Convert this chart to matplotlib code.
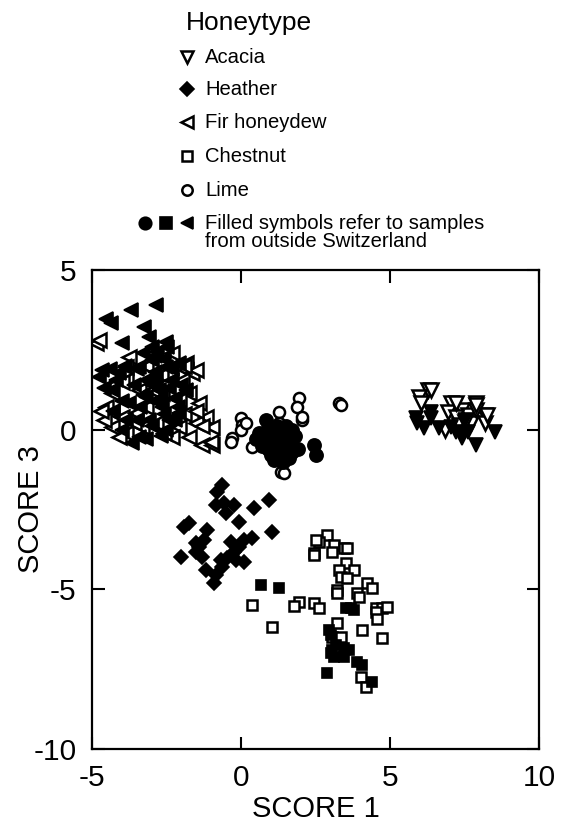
import matplotlib
matplotlib.use("Agg")
import matplotlib.pyplot as plt
from matplotlib.ticker import FixedLocator

plt.rcParams['font.family'] = ['Liberation Sans', 'DejaVu Sans']
plt.rcParams['axes.unicode_minus'] = False

# ---------------- data (SCORE 1, SCORE 3) ----------------
fir_open_x = [-4.85, -4.75, -3.75, -3.85, -1.84, -1.64, -1.98, -4.42, -4.32, -1.74, -1.41, -4.52,
              -4.32, -3.98, -3.52, -1.17, -1.51, -0.97, -2.08, -1.31, -0.97, -3.18, -2.64, -3.41,
              -3.85, -2.98, -2.51, -2.08, -2.85, -3.31, -3.85, -2.31, -1.74, -1.84, -1.51, -4.32,
              -4.08, -4.60, -4.70, -3.60, -2.60, -1.90, -1.50, -2.30, -1.90, -4.00, -3.20, -2.70,
              -1.30, -1.00]
fir_open_y = [2.72, 2.82, 2.29, 1.97, 1.88, 1.78, 1.57, 1.35, 1.16, 1.16, 0.85, 0.72,
              0.56, 0.41, 0.53, 0.41, 0.22, 0.09, 0.09, -0.47, -0.47, 0.72, 1.16, 1.25,
              1.57, 1.25, 1.47, 0.94, 0.22, 0.09, -0.09, -0.22, -0.22, 2.10, 1.88, 0.09,
              -0.22, 0.30, 0.60, 0.20, -0.10, 0.50, 0.60, 2.40, 2.00, 1.50, 2.00, 1.70,
              0.10, -0.40]
fir_fill_x = [-4.52, -4.35, -3.68, -2.85, -3.25, -3.08, -3.98, -2.51, -2.81, -2.98, -2.51, -3.18,
              -2.75, -4.65, -4.75, -4.32, -3.85, -3.65, -3.41, -2.51, -2.08, -2.64, -3.08, -2.31,
              -2.08, -2.85, -3.18, -3.75, -3.41, -1.84, -2.41, -4.08, -4.18,
              -3.30, -2.90, -2.60, -3.50, -2.30, -2.90, -3.60, -3.00, -2.40, -2.20, -2.90, -3.40,
              -2.60, -2.20, -3.00, -3.50, -4.30, -4.00, -3.20, -2.70, -2.00, -2.10, -3.90, -4.40,
              -3.30, -2.70, -2.50, -3.00, -4.60, -4.00]
fir_fill_y = [3.45, 3.35, 3.76, 3.91, 3.23, 2.91, 2.72, 2.76, 2.44, 2.19, 1.97, 1.57,
              1.25, 1.88, 1.66, 1.25, 0.31, -0.41, -0.22, 0.00, 0.53, 0.72, 0.31, 1.57,
              2.10, 1.66, 1.03, 0.85, 1.97, 1.25, 0.31, 1.78, 1.57,
              2.40, 2.30, 2.20, 1.90, 1.90, 1.80, 1.40, 1.40, 1.30, 1.00, 0.90, 0.70,
              0.50, 0.30, 0.10, 0.30, 0.60, 0.00, -0.30, -0.20, 1.40, 0.70, 2.00, 1.90,
              1.10, 1.00, 2.60, 2.60, 1.30, 0.90]

lime_open_x = [1.94, 1.87, 2.04, 3.28, 3.35, 1.27, 1.27, 0.00, 0.03, 0.00, -0.30, -0.34,
               0.37, 1.34, 1.44, 2.04, 0.17]
lime_open_y = [1.00, 0.72, 0.31, 0.85, 0.78, 0.56, 0.22, 0.38, 0.16, 0.00, -0.25, -0.38,
               -0.53, -1.32, -1.35, 0.41, 0.22]
lime_fill_x = [0.84, 2.44, 2.51, 0.60, 0.80, 1.00, 1.20, 1.40, 1.60, 1.80, 0.70, 0.90,
               1.10, 1.30, 1.50, 1.70, 1.90, 1.00, 1.30, 1.60, 0.50, 1.20, 1.50, 1.70,
               0.90, 1.40, 1.10]
lime_fill_y = [0.31, -0.47, -0.78, -0.10, -0.30, -0.10, -0.20, -0.10, -0.30, -0.20, -0.50, -0.60,
               -0.40, -0.60, -0.50, -0.70, -0.60, -0.80, -0.90, -0.90, -0.30, 0.10, 0.10, 0.00,
               0.05, -1.00, -0.95]

acacia_open_x = [6.29, 5.96, 6.03, 7.06, 7.90, 6.96, 7.40, 7.63, 8.20, 7.20, 7.73, 7.30,
                 6.86, 8.20, 7.87, 7.53, 6.36, 7.20, 7.90, 8.24]
acacia_open_y = [1.25, 1.03, 0.85, 0.85, 0.85, 0.56, 0.63, 0.47, 0.47, 0.41, 0.22, 0.16,
                 0.00, 0.22, 0.63, 0.25, 1.25, 0.85, 0.78, 0.47]
acacia_fill_x = [5.86, 5.90, 6.13, 6.39, 6.39, 6.63, 7.20, 7.40, 7.63, 8.54, 7.53, 7.06,
                 7.87, 7.40]
acacia_fill_y = [0.38, 0.22, 0.06, 0.56, 0.38, 0.06, -0.06, -0.16, -0.06, -0.06, 0.31, 0.09,
                 -0.47, -0.25]

heather_x = [-0.64, -0.80, -0.57, -0.84, -0.23, -0.50, 0.44, 0.94, -0.07, 1.04, -1.74, -1.91,
             -1.14, -1.24, 0.37, 0.10, -0.33, -1.41, -1.51, -0.07, -2.01, -1.31, -0.23, -0.47,
             -0.67, 0.10, -1.17, -0.84, -0.90, -1.51, -0.17, -0.64]
heather_y = [-1.72, -1.94, -2.29, -2.35, -2.35, -2.60, -2.44, -2.19, -2.88, -3.19, -2.91, -3.04,
             -3.13, -3.44, -3.38, -3.44, -3.51, -3.66, -3.82, -3.66, -3.98, -3.98, -3.82, -4.01,
             -4.07, -4.13, -4.38, -4.54, -4.79, -3.54, -4.07, -4.29]

chest_open_x = [2.88, 2.61, 3.11, 3.45, 3.55, 2.44, 3.05, 3.52, 3.28, 3.78, 3.35, 3.55,
                4.22, 4.39, 3.21, 3.21, 3.88, 3.95, 1.94, 1.77, 2.44, 2.61, 4.52, 4.72,
                4.89, 4.52, 4.55, 1.04, 3.21, 4.05, 3.05, 3.35, 4.72, 4.02, 4.18, 2.50,
                2.44, 0.37]
chest_open_y = [-3.29, -3.51, -3.60, -3.70, -3.70, -3.85, -3.82, -4.17, -4.38, -4.38, -4.60, -4.63,
                -4.79, -4.95, -5.01, -5.10, -5.10, -5.23, -5.39, -5.51, -5.42, -5.57, -5.57, -5.57,
                -5.54, -5.70, -5.92, -6.17, -6.04, -6.26, -6.48, -6.48, -6.51, -7.74, -8.05, -3.45,
                -3.91, -5.50]
chest_fill_x = [0.67, 1.27, 3.52, 3.68, 3.78, 2.95, 3.01, 3.18, 3.05, 3.45, 3.62, 3.11,
                3.45, 3.88, 4.05, 2.88, 4.39, 3.01]
chest_fill_y = [-4.85, -4.95, -5.57, -5.57, -5.64, -6.26, -6.42, -6.73, -6.89, -6.83, -6.89, -7.11,
                -7.11, -7.27, -7.36, -7.61, -7.89, -6.98]

x_ticks = [-5, 0, 5, 10]
y_ticks = [-10, -5, 0, 5]
x_label = "SCORE 1"
y_label = "SCORE 3"
legend_title = "Honeytype"
legend_names = ["Acacia", "Heather", "Fir honeydew", "Chestnut", "Lime"]
legend_note = ["Filled symbols refer to samples", "from outside Switzerland"]

# ---------------- figure ----------------
W, H = 561, 823
fig = plt.figure(figsize=(W / 100, H / 100), dpi=100)
ax = fig.add_axes([92 / W, (H - 749) / H, (539 - 92) / W, (749 - 270) / H])

open_kw = dict(linestyle='none', mfc='white', mec='black', mew=1.8)
fill_kw = dict(linestyle='none', mfc='black', mec='black', mew=1.2)

ax.plot(fir_open_x, fir_open_y, marker='<', ms=9.5, **open_kw)
ax.plot(fir_fill_x, fir_fill_y, marker='<', ms=9.5, **fill_kw)
ax.plot(lime_open_x, lime_open_y, marker='o', ms=8, **open_kw)
ax.plot(lime_fill_x, lime_fill_y, marker='o', ms=9.5, **fill_kw)
ax.plot(acacia_open_x, acacia_open_y, marker='v', ms=9.5, **open_kw)
ax.plot(acacia_fill_x, acacia_fill_y, marker='v', ms=9.5, **fill_kw)
ax.plot(heather_x, heather_y, marker='D', ms=7.2, **fill_kw)
ax.plot(chest_open_x, chest_open_y, marker='s', ms=7.5, **open_kw)
ax.plot(chest_fill_x, chest_fill_y, marker='s', ms=7.5, **fill_kw)

ax.set_xlim(-5, 10)
ax.set_ylim(-10, 5)
ax.xaxis.set_major_locator(FixedLocator(x_ticks))
ax.yaxis.set_major_locator(FixedLocator(y_ticks))
ax.tick_params(direction='in', length=9, width=1.5, top=True, right=True,
               labelsize=21.5, pad=11)
for s in ax.spines.values():
    s.set_linewidth(1.6)
ax.set_xlabel(x_label, fontsize=21)
ax.set_ylabel(y_label, fontsize=21)
ax.xaxis.set_label_coords(0.5, -0.095)
ax.yaxis.set_label_coords(-0.105, 0.5)

# ---------------- legend (drawn in pixel space) ----------------
lg = fig.add_axes([0, 0, 1, 1], zorder=-1)
lg.set_xlim(0, W)
lg.set_ylim(H, 0)
lg.axis('off')

lg.text(186, 23, legend_title, fontsize=19, va='center', ha='left')
rows_y = [57, 89, 122, 156, 190]
row_markers = ['v', 'D', '<', 's', 'o']
row_ms = [8, 7, 8.5, 7, 7.5]
for name, yy, mk, ms in zip(legend_names, rows_y, row_markers, row_ms):
    if mk == 'D':
        lg.plot([187], [yy], marker=mk, ms=ms, **fill_kw)
    else:
        lg.plot([187], [yy], marker=mk, ms=ms, **open_kw)
    lg.text(205, yy, name, fontsize=14.6, va='center', ha='left')

note_y = 223
lg.plot([145], [note_y], marker='o', ms=9, **fill_kw)
lg.plot([166], [note_y], marker='s', ms=8, **fill_kw)
lg.plot([187], [note_y], marker='<', ms=8.5, **fill_kw)
lg.text(205, note_y, legend_note[0], fontsize=14.6, va='center', ha='left')
lg.text(205, note_y + 18, legend_note[1], fontsize=14.6, va='center', ha='left')

fig.savefig("out.png", dpi=100)
